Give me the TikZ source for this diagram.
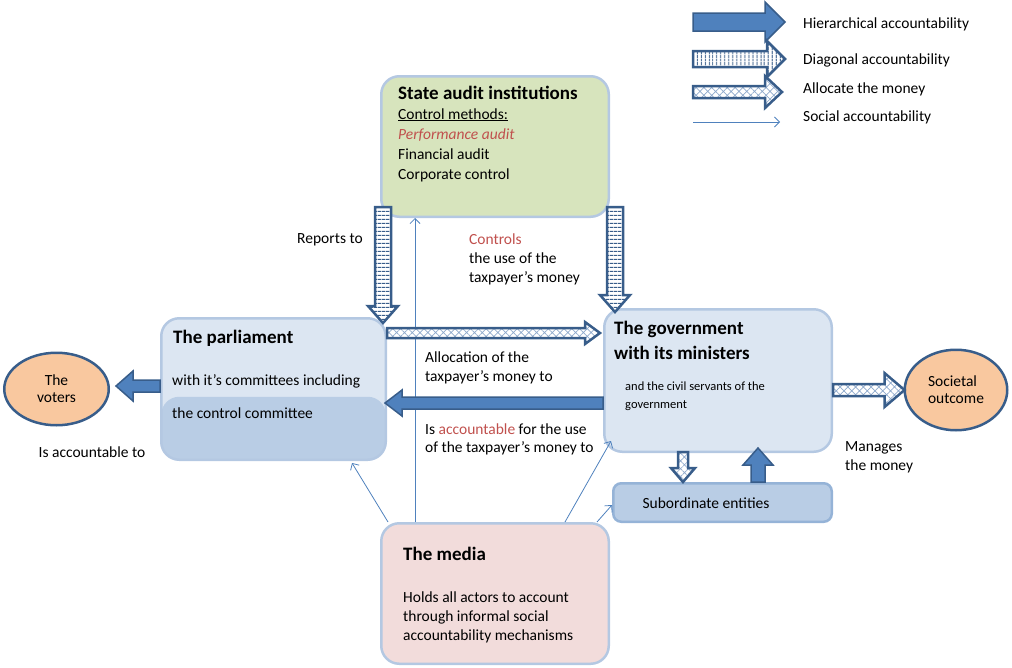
\documentclass[tikz,border=0pt]{standalone}
\usepackage{fontspec}
\setmainfont{Carlito}
\usetikzlibrary{arrows.meta,calc,shapes.geometric,patterns.meta}
\definecolor{boxline}{HTML}{B4C8E2}
\definecolor{subline}{HTML}{95B3D7}
\definecolor{saigreen}{HTML}{D7E4BD}
\definecolor{parlight}{HTML}{DCE6F2}
\definecolor{parblue}{HTML}{B9CDE5}
\definecolor{mediapink}{HTML}{F2DCDB}
\definecolor{voterorange}{HTML}{F9C89F}
\definecolor{arrowblue}{HTML}{4F81BD}
\definecolor{arrowdark}{HTML}{385D8A}
\definecolor{hatchblue}{HTML}{8EA9CC}
\definecolor{textred}{HTML}{C0504D}

% wide arrow: [style]{from}{to}{half body}{half head}{head length}
\newcommand{\blockarrow}[6][]{%
  \path #2 coordinate (ba-s) #3 coordinate (ba-e);
  \path ($(ba-e)!#6!(ba-s)$) coordinate (ba-h);
  \draw[#1] ($(ba-s)!#4!90:(ba-e)$) -- ($(ba-h)!#4!90:(ba-e)$)
    -- ($(ba-h)!#5!90:(ba-e)$) -- (ba-e) -- ($(ba-h)!#5!-90:(ba-e)$)
    -- ($(ba-h)!#4!-90:(ba-e)$) -- ($(ba-s)!#4!-90:(ba-e)$) -- cycle;}

\begin{document}
\begin{tikzpicture}[x=1pt,y=-1pt,
    box/.style={draw=boxline,line width=2.5pt,rounded corners=18pt,inner sep=0},
    oval/.style={ellipse,draw=arrowdark,line width=2.5pt,fill=voterorange,
                 inner sep=0,font=\fontsize{15.5}{17}\selectfont},
    ttl/.style={anchor=west,inner sep=0,align=left,font=\fontsize{19}{25}\selectfont\bfseries},
    txt/.style={anchor=west,inner sep=0,align=left,font=\fontsize{15.5}{19}\selectfont},
    sml/.style={anchor=west,inner sep=0,align=left,font=\fontsize{12.5}{18}\selectfont},
    hier/.style={fill=arrowblue,draw=arrowdark,line width=1.5pt},
    diag/.style={draw=arrowdark,line width=2.5pt,preaction={fill=white},
                 pattern={Lines[angle=#1,distance=4pt,line width=1.1pt]},pattern color=arrowdark},
    diag/.default=90,
    alloc/.style={draw=arrowdark,line width=2.5pt,preaction={fill=white},
                  pattern={Hatch[angle=45,distance=5.5pt,line width=0.7pt]},pattern color=hatchblue},
    social/.style={draw=arrowblue,line width=0.8pt,-{Straight Barb[length=5pt,width=10pt]}}]

  \useasboundingbox (0,0) rectangle (1012,667);

  % boxes
  \node[box,fill=saigreen,minimum width=227.5,minimum height=140.5] (sai) at (495,146.5) {};
  \node[box,fill=parlight,minimum width=224.5,minimum height=141.5,
        path picture={\fill[parblue] ([yshift=63pt]path picture bounding box.south west)
                      rectangle (path picture bounding box.south east);}] (par) at (273.5,389) {};
  \node[box,fill=parlight,minimum width=227.5,minimum height=142.5] (gov) at (718,380.5) {};
  \node[box,draw=subline,fill=parblue,rounded corners=8pt,minimum width=218.5,
        minimum height=38.5] (sub) at (722.5,502.5) {};
  \node[box,fill=mediapink,minimum width=227.5,minimum height=140.5] (med) at (495,593.5) {};

  \node[oval,align=center,minimum width=104.5,minimum height=72.5] (vot) at (56.5,389) {The\\voters};
  \node[oval,align=left,minimum width=102.5,minimum height=80.5] (outc) at (956,390) {Societal\\outcome};

  % social accountability
  \draw[social] ([xshift=-80pt]med.north) -- ([xshift=-80pt]sai.south);
  \draw[social] ([xshift=8pt]med.north west) -- ([xshift=78.5pt,yshift=-2pt]par.south);
  \draw[social] ([xshift=-45pt]med.north east) -- ([xshift=8pt,yshift=12pt]gov.south west);
  \draw[social] ([xshift=-13pt]med.north east) -- ([yshift=-2.5pt]sub.west);

  % wide arrows
  \blockarrow[hier]{([yshift=3pt]par.west)}{([xshift=6pt,yshift=3pt]vot.east)}{6pt}{15pt}{17pt}
  \blockarrow[hier]{([yshift=-22.5pt]gov.west)}{([xshift=-2pt,yshift=-14pt]par.east)}{6pt}{13pt}{17pt}
  \blockarrow[alloc]{([yshift=56pt]par.east)}{([xshift=-3pt,yshift=47.5pt]gov.west)}{5pt}{11pt}{15pt}
  \blockarrow[diag=0]{([xshift=-112pt,yshift=11pt]sai.south)}{([xshift=109.5pt,yshift=-6pt]par.north)}{8pt}{15pt}{17pt}
  \blockarrow[diag=0]{([xshift=120pt,yshift=11pt]sai.south)}{([xshift=-103pt,yshift=-4pt]gov.north)}{8pt}{15pt}{17pt}
  \blockarrow[alloc]{([xshift=-35pt,yshift=1pt]gov.south)}{([xshift=-39.5pt]sub.north)}{5pt}{12pt}{14pt}
  \blockarrow[hier]{([xshift=35.5pt]sub.north)}{([xshift=40pt,yshift=5pt]gov.south)}{7pt}{15pt}{17pt}
  \blockarrow[alloc]{([yshift=-9.5pt]gov.east)}{([xshift=1pt]outc.west)}{6pt}{17pt}{20pt}

  % box texts
  \node[ttl] (saittl) at (398,93) {State audit institutions};
  \node[txt,font=\fontsize{15.5}{20}\selectfont] (saitxt) at (398,145)
       {\underline{Control methods:}\\\textcolor{textred}{\itshape Performance audit}\\Financial audit\\Corporate control};
  \node[ttl] (parttl) at (173,338) {The parliament};
  \node[txt] (parcom) at (172,381) {with it’s committees including};
  \node[txt] (parctl) at (172,413) {the control committee};
  \node[ttl] (govttl) at (614,340) {The government\\with its ministers};
  \node[sml] (govsml) at (625,396) {and the civil servants of the\\government};
  \node[txt,anchor=center] (subtxt) at (706,503) {Subordinate entities};
  \node[ttl] (medttl) at (403,554) {The media};
  \node[txt] (medtxt) at (403,617)
       {Holds all actors to account\\through informal social\\accountability mechanisms};

  % arrow labels
  \node[txt,anchor=center] (reptxt) at (330,240) {Reports to};
  \node[txt] (ctltxt) at (469,259) {\textcolor{textred}{Controls}\\the use of the\\taxpayer’s money};
  \node[txt] (alltxt) at (425,367.5) {Allocation of the\\taxpayer’s money to};
  \node[txt,font=\fontsize{15.5}{18}\selectfont] (acctxt) at (425,439)
       {Is \textcolor{textred}{accountable} for the use\\of the taxpayer’s money to};
  \node[txt,anchor=center] (votacc) at (92,452) {Is accountable to};
  \node[txt,font=\fontsize{15.5}{18.5}\selectfont] (mantxt) at (845,457.5) {Manages\\the money};

  % legend
  \coordinate (lg1s) at (693,22);  \coordinate (lg1e) at (785,22);
  \coordinate (lg2s) at (693,59);  \coordinate (lg2e) at (785,59);
  \coordinate (lg3s) at (693,92);  \coordinate (lg3e) at (782,92);
  \coordinate (lg4s) at (693,122); \coordinate (lg4e) at (780,122);
  \blockarrow[hier]{(lg1s)}{(lg1e)}{9pt}{20pt}{20pt}
  \blockarrow[diag]{(lg2s)}{(lg2e)}{8pt}{18pt}{18pt}
  \blockarrow[alloc]{(lg3s)}{(lg3e)}{6pt}{16pt}{17pt}
  \draw[social] (lg4s) -- (lg4e);
  \node[txt] (lgtxt1) at (803,24) {Hierarchical accountability};
  \node[txt] (lgtxt2) at (803,60) {Diagonal accountability};
  \node[txt] (lgtxt3) at (803,89) {Allocate the money};
  \node[txt] (lgtxt4) at (803,117) {Social accountability};
\end{tikzpicture}
\end{document}
